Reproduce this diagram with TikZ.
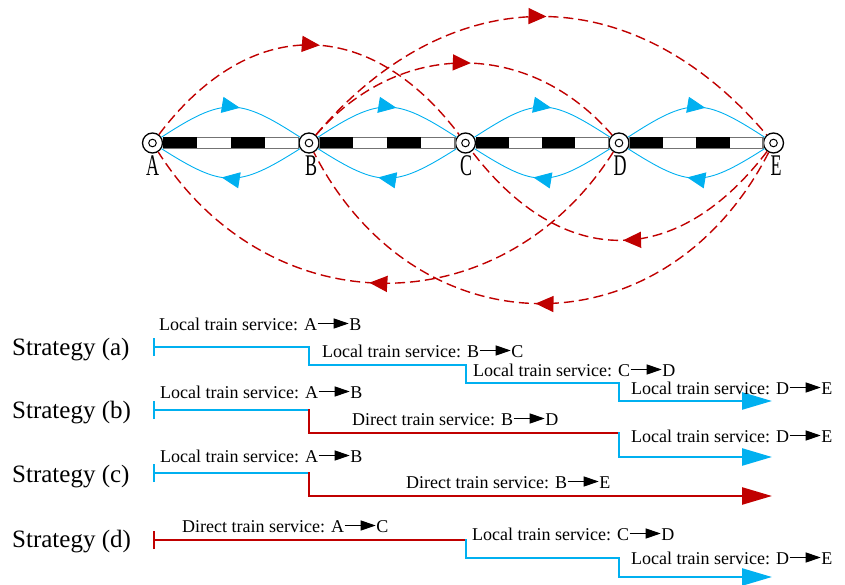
\documentclass[tikz,border=0pt]{standalone}
\usepackage{fontspec}
\usepackage{graphicx}
\setmainfont{Liberation Serif}
\usetikzlibrary{arrows.meta,decorations.markings,calc}
\definecolor{lblue}{RGB}{0,176,240}
\definecolor{dred}{RGB}{192,0,0}
\newcommand{\tarr}{\tikz[baseline=-6.5pt]\draw[black,line width=1.2pt,-{Triangle[length=15pt,width=10pt]}] (0pt,0pt) -- (31pt,0pt);}
\newcommand{\stl}[1]{\scalebox{0.6}[1]{#1}}
\begin{document}
\begin{tikzpicture}[x=1pt,y=1pt,
  station/.style={circle,draw,line width=1.3pt,fill=white,minimum size=20pt,inner sep=0pt,
    path picture={\draw[line width=1pt] (path picture bounding box.center) circle (3.8pt);}},
  stlabel/.style={font=\fontsize{30}{30}\selectfont,inner sep=0pt},
  railw/.style={fill=white,draw=black!55,line width=1.3pt},
  localarc/.style={lblue,line width=0.9pt},
  directarc/.style={dred,line width=1.4pt,dash pattern=on 10pt off 5pt},
  midarrow/.style={postaction={decorate},decoration={markings,mark=at position #1 with {\arrow{Triangle[length=18pt,width=16pt]}}}},
  lab/.style={font=\fontsize{18}{20}\selectfont,anchor=base west,inner sep=0pt},
  strat/.style={font=\fontsize{25}{28}\selectfont,anchor=base west,inner sep=0pt},
  sline/.style={line width=2.5pt,line cap=rect},
  startbar/.style={{Bar[width=18pt]}-},
  endarrow/.style={-{Triangle[length=30pt,width=17pt]}}
]
\useasboundingbox (0,0) rectangle (845,584);

% stations (positions)
\coordinate (cA) at (152.5,441);
\coordinate (cB) at (309,441);
\coordinate (cC) at (465.5,441);
\coordinate (cD) at (619,441);
\coordinate (cE) at (773.5,441);
\foreach \s in {A,B,C,D,E}{\node[station] (\s) at (c\s) {};}

% rails
\foreach \p/\q in {A/B,B/C,C/D,D/E}{
  \draw[railw] ($(\p.east)+(0,-5.5)$) rectangle ($(\q.west)+(0,5.5)$);
  \fill[black] ($(\p.east)+(0,-5.5)$) rectangle ($(\p.east)!0.25!(\q.west)+(0,5.5)$);
  \fill[black] ($(\p.east)!0.5!(\q.west)+(0,-5.5)$) rectangle ($(\p.east)!0.75!(\q.west)+(0,5.5)$);
}

% local arcs
\foreach \p/\q in {A/B,B/C,C/D,D/E}{
  \draw[localarc,midarrow=0.56] (\p) .. controls ($(\p)+(71,46)$) and ($(\q)+(-71,46)$) .. (\q);
  \draw[localarc,midarrow=0.56] (\q) .. controls ($(\q)+(-71,-45)$) and ($(\p)+(71,-45)$) .. (\p);
}

% direct arcs
\draw[directarc,midarrow=0.53] (A) .. controls ($(A)+(97,128)$) and ($(C)+(-97,128)$) .. (C);
\draw[directarc,midarrow=0.52] (B) .. controls ($(B)+(90,104)$) and ($(D)+(-90,104)$) .. (D);
\draw[directarc,midarrow=0.51] (B) .. controls ($(B)+(141,166)$) and ($(E)+(-141,166)$) .. (E);
\draw[directarc,midarrow=0.49] (E) .. controls ($(E)+(-97,-127)$) and ($(C)+(97,-127)$) .. (C);
\draw[directarc,midarrow=0.53] (D) .. controls ($(D)+(-117,-184)$) and ($(A)+(117,-184)$) .. (A);
\draw[directarc,midarrow=0.51] (E) .. controls ($(E)+(-108,-211)$) and ($(B)+(108,-211)$) .. (B);

% station labels
\node[stlabel] (lA) at (152.5,418) {\stl{A}};
\node[stlabel] (lB) at (311,418) {\stl{B}};
\node[stlabel] (lC) at (466,418) {\stl{C}};
\node[stlabel] (lD) at (620,418) {\stl{D}};
\node[stlabel] (lE) at (776,418) {\stl{E}};

% strategy names
\node[strat] (sa) at (12,229) {Strategy (a)};
\node[strat] (sb) at (12,166) {Strategy (b)};
\node[strat] (sc) at (12,102) {Strategy (c)};
\node[strat] (sd) at (12,37) {Strategy (d)};

% strategy (a)
\draw[sline,lblue,startbar] (152.5,237) -- (309,237);
\draw[sline,lblue] (309,237) -- (309,219) -- (466,219) -- (466,201) -- (619,201) -- (619,183);
\draw[sline,lblue,endarrow] (619,183) -- (772,183);
\node[lab] (a1) at (159,254) {Local train service: A\tarr B};
\node[lab] (a2) at (322,227) {Local train service: B\tarr C};
\node[lab] (a3) at (473,208) {Local train service: C\tarr D};
\node[lab] (a4) at (631,190) {Local train service: D\tarr E};

% strategy (b)
\draw[sline,lblue,startbar] (152.5,174) -- (309,174);
\draw[sline,dred] (309,174) -- (309,151) -- (619,151);
\draw[sline,lblue] (619,151) -- (619,127);
\draw[sline,lblue,endarrow] (619,127) -- (772,127);
\node[lab] (b1) at (160,186) {Local train service: A\tarr B};
\node[lab] (b2) at (352,159) {Direct train service: B\tarr D};
\node[lab] (b3) at (631,142) {Local train service: D\tarr E};

% strategy (c)
\draw[sline,lblue,startbar] (152.5,111) -- (309,111);
\draw[sline,dred] (309,111) -- (309,88);
\draw[sline,dred,endarrow] (309,88) -- (772,88);
\node[lab] (c1) at (160,122) {Local train service: A\tarr B};
\node[lab] (c2) at (406,96) {Direct train service: B\tarr E};

% strategy (d)
\draw[sline,dred,startbar] (152.5,44) -- (466,44);
\draw[sline,lblue] (466,44) -- (466,26) -- (619,26) -- (619,7);
\draw[sline,lblue,endarrow] (619,7) -- (772,7);
\node[lab] (d1) at (182,52) {Direct train service: A\tarr C};
\node[lab] (d2) at (472,44) {Local train service: C\tarr D};
\node[lab] (d3) at (631,20) {Local train service: D\tarr E};
\end{tikzpicture}
\end{document}
